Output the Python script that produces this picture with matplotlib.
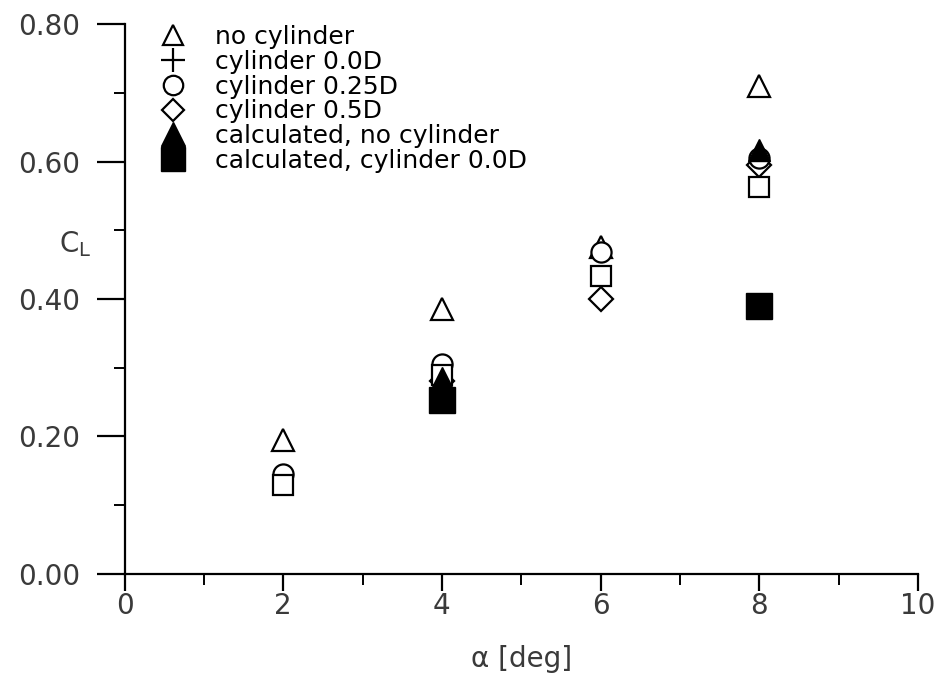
import numpy as np
import matplotlib.pyplot as plt
from matplotlib.lines import Line2D
from matplotlib.ticker import MultipleLocator, FormatStrFormatter

alpha = [2, 4, 6, 8]
no_cyl = [0.195, 0.385, 0.475, 0.71]
cyl_00 = [0.13, 0.29, 0.433, 0.563]
cyl_025 = [0.145, 0.305, 0.468, 0.605]
cyl_05 = [np.nan, 0.28, 0.40, 0.595]
calc_no_cyl = [np.nan, 0.285, np.nan, 0.617]
calc_cyl_00 = [np.nan, 0.253, np.nan, 0.39]

labels = ['no cylinder', 'cylinder 0.0D', 'cylinder 0.25D', 'cylinder 0.5D',
          'calculated, no cylinder', 'calculated, cylinder 0.0D']

fig = plt.figure(figsize=(9.38, 6.86), dpi=100)
ax = fig.add_axes([0.1328, 0.1633, 0.8458, 0.8017])

open_kw = dict(linestyle='none', mfc='white', mec='black', mew=1.6)
ax.plot(alpha, no_cyl, marker='^', ms=16, zorder=3, **open_kw)
ax.plot(alpha, cyl_025, marker='o', ms=14.5, zorder=4, **open_kw)
ax.plot(alpha, cyl_05, marker='D', ms=12, zorder=3, **open_kw)
ax.plot(alpha, cyl_00, marker='s', ms=15, zorder=4, **open_kw)
ax.plot(alpha, calc_no_cyl, marker='^', ms=16, linestyle='none', color='black', zorder=5)
ax.plot(alpha, calc_cyl_00, marker='s', ms=19, linestyle='none', color='black', zorder=5)

ax.set_xlim(0, 10)
ax.set_ylim(0, 0.8)
ax.xaxis.set_major_locator(MultipleLocator(2))
ax.xaxis.set_minor_locator(MultipleLocator(1))
ax.yaxis.set_major_locator(MultipleLocator(0.2))
ax.yaxis.set_minor_locator(MultipleLocator(0.1))
ax.yaxis.set_major_formatter(FormatStrFormatter('%.2f'))

for s in ['top', 'right']:
    ax.spines[s].set_visible(False)
for s in ['left', 'bottom']:
    ax.spines[s].set_linewidth(1.6)

ax.tick_params(axis='both', which='major', direction='out', width=1.6,
               labelsize=20, labelcolor='#3a3a3a')
ax.tick_params(axis='y', which='major', length=20, pad=12)
ax.tick_params(axis='x', which='major', length=12, pad=1)
ax.tick_params(axis='both', which='minor', direction='out', width=1.4, length=8)

ax.set_xlabel('α [deg]', fontsize=20, color='#3a3a3a', labelpad=18)
ax.text(-0.062, 0.6, r'C$_\mathrm{L}$', transform=ax.transAxes, fontsize=20,
        color='#3a3a3a', ha='center', va='center')

handles = [
    Line2D([], [], marker='^', ms=15, **open_kw),
    Line2D([], [], marker='+', ms=17, linestyle='none', color='black', mew=1.6),
    Line2D([], [], marker='o', ms=14, **open_kw),
    Line2D([], [], marker='D', ms=11, **open_kw),
    Line2D([], [], marker='^', ms=17, linestyle='none', color='black'),
    Line2D([], [], marker='s', ms=17, linestyle='none', color='black'),
]
ax.legend(handles, labels, loc='upper left', bbox_to_anchor=(0.022, 1.03),
          frameon=False, fontsize=18, handlelength=1.1, handletextpad=1.1,
          labelspacing=0.03, borderpad=0.2)

fig.savefig('out.png', dpi=100)
